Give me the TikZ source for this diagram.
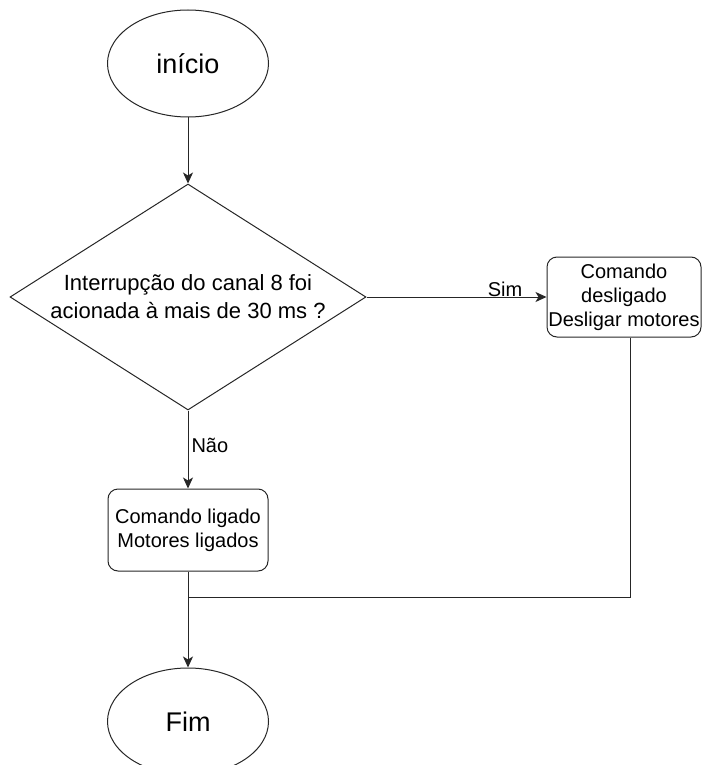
\documentclass[tikz,border=0pt]{standalone}
\usepackage{fontspec}
\setmainfont{Liberation Sans}
\usepackage{tikz}
\usetikzlibrary{positioning,shapes.geometric,arrows.meta}
\tikzset{
  terminal/.style  = {draw=black!85, ellipse, line width=1pt, inner sep=0pt, minimum width=161pt, minimum height=107pt, font=\fontsize{27}{32}\selectfont},
  decision/.style  = {draw=black!85, diamond, aspect=1.575, line width=1pt, inner sep=0pt, minimum width=356pt, minimum height=226pt, align=center, font=\fontsize{22}{28}\selectfont},
  process/.style   = {draw=black!85, rounded corners=10pt, line width=1pt, inner sep=0pt, align=center, font=\fontsize{20}{24}\selectfont},
  flow/.style      = {draw=black!85, line width=1pt, -{Stealth[length=11pt, width=10pt, inset=3pt]}},
  link/.style      = {draw=black!85, line width=1pt},
  lbl/.style       = {font=\fontsize{20}{24}\selectfont, inner sep=0pt},
}

\begin{document}
\begin{tikzpicture}[x=1pt,y=-1pt]
  \clip (0,0) rectangle (702,765);
  \useasboundingbox (0,0) rectangle (702,765);

  % ----- main column -----
  \node[terminal] (inicio) at (188,63.5) {início};
  \node[decision] (canal) at (188,297) {Interrupção do canal 8 foi\\acionada à mais de 30 ms ?};
  \node[process, minimum width=160pt, minimum height=82pt] (ligado) at (188,530) {Comando ligado\\Motores ligados};
  \node[terminal] (fim) at (188,721.5) {Fim};

  % ----- right branch -----
  \node[process, minimum width=154pt, minimum height=80pt] (desligado) at (624,297) {Comando\\desligado\\Desligar motores};
  \coordinate (junta) at (188,597);

  % ----- connectors -----
  \draw[flow] (inicio) -- (canal);
  \draw[flow] (canal.east) -- node[lbl, pos=0.77, anchor=base, yshift=1pt] {Sim} (desligado.west);
  \draw[flow] (canal.south) -- node[lbl, pos=0.45, anchor=west, xshift=3pt] {Não} (ligado.north);
  \draw[flow] (ligado.south) -- (fim.north);
  \draw[link] ([xshift=6pt]desligado.south) |- (junta);
\end{tikzpicture}
\end{document}
